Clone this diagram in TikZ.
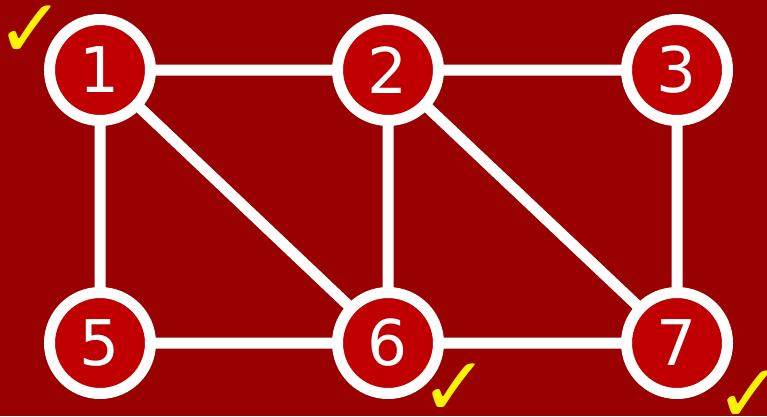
\documentclass[tikz,border=0pt]{standalone}
\usepackage{fontspec}
\setmainfont{DejaVu Sans}
\definecolor{bgred}{RGB}{153,0,0}
\definecolor{nodered}{RGB}{192,0,0}
\begin{document}
\begin{tikzpicture}[x=1pt,y=-1pt,
  vert/.style={circle,draw=white,fill=nodered,line width=11pt,minimum size=101pt,inner sep=0pt,text=white,font=\fontsize{63}{63}\selectfont},
  edge/.style={draw=white,line width=11pt},
  tick/.style={text=yellow,font=\fontsize{82}{82}\selectfont\bfseries,inner sep=0pt}]
\fill[bgred] (0,0) rectangle (767,416);
\useasboundingbox (0,0) rectangle (767,416);
\coordinate (p1) at (100,70);
\coordinate (p2) at (388,70);
\coordinate (p3) at (677,70);
\coordinate (p5) at (100,343);
\coordinate (p6) at (388,343);
\coordinate (p7) at (677,343);
\draw[edge] (p1) -- (p2) (p2) -- (p3) (p1) -- (p5) (p1) -- (p6) (p2) -- (p6) (p2) -- (p7) (p3) -- (p7) (p5) -- (p6) (p6) -- (p7);
\node[vert] (n1) at (p1) {1};
\node[vert] (n2) at (p2) {2};
\node[vert] (n3) at (p3) {3};
\node[vert] (n5) at (p5) {5};
\node[vert] (n6) at (p6) {6};
\node[vert] (n7) at (p7) {7};
\node[tick] (t1) at (31,32) {✓};
\node[tick] (t6) at (455,390) {✓};
\node[tick] (t7) at (750,397) {✓};
\end{tikzpicture}
\end{document}
